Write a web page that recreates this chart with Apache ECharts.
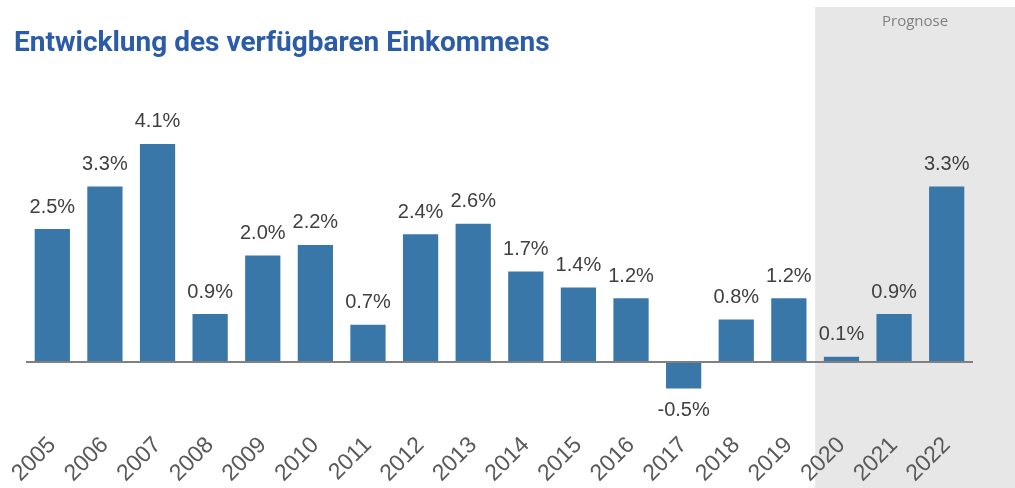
<!DOCTYPE html>
<html>
<head>
<meta charset="utf-8">
<script src="https://cdn.jsdelivr.net/npm/echarts@6/dist/echarts.min.js"></script>
<style>
  html, body { margin: 0; padding: 0; background: #fff; }
  #chart { width: 1015px; height: 488px; }
</style>
</head>
<body>
<div id="chart"></div>
<script>
var years = ['2005', '2006', '2007', '2008', '2009', '2010', '2011', '2012', '2013',
             '2014', '2015', '2016', '2017', '2018', '2019', '2020', '2021', '2022'];
var growth = [2.5, 3.3, 4.1, 0.9, 2.0, 2.2, 0.7, 2.4, 2.6,
              1.7, 1.4, 1.2, -0.5, 0.8, 1.2, 0.1, 0.9, 3.3];
var forecastStart = '2020';

var chart = echarts.init(document.getElementById('chart'));

var option = {
    animation: false,
    title: {
        text: 'Entwicklung des verfügbaren Einkommens',
        left: 9,
        top: 25,
        textStyle: {
            color: '#2a5ca8',
            fontFamily: 'Roboto',
            fontWeight: 'bold',
            fontSize: 28
        }
    },
    grid: { left: 26, right: 42, top: 96, bottom: 19.6, outerBoundsMode: 'none', containLabel: false },
    xAxis: {
        type: 'category',
        data: years,
        axisLine: { onZero: false, show: false },
        axisTick: { show: false },
        axisLabel: {
            rotate: 45,
            margin: -27,
            interval: 0,
            hideOverlap: false,
            color: '#595959',
            fontFamily: 'Liberation Sans',
            fontSize: 23
        }
    },
    yAxis: {
        type: 'value',
        min: -2,
        max: 5,
        show: false,
        splitLine: { show: false }
    },
    series: [{
        type: 'bar',
        barCategoryGap: '33%',
        z: 3,
        itemStyle: { color: '#3a77a9' },
        data: growth.map(function (v) {
            return {
                value: v,
                label: { position: v < 0 ? 'bottom' : 'top' }
            };
        }),
        label: {
            show: true,
            distance: 12,
            color: '#404040',
            fontFamily: 'Liberation Sans',
            fontSize: 20,
            formatter: function (p) { return p.value.toFixed(1) + '%'; }
        },
        markLine: {
            silent: true,
            symbol: 'none',
            label: { show: false },
            lineStyle: { color: '#808080', width: 2, type: 'solid' },
            data: [{ yAxis: 0 }]
        }
    }]
};

chart.setOption(option);

// shaded forecast region, positioned from the category axis
var i0 = years.indexOf(forecastStart);
var xa = chart.convertToPixel({ xAxisIndex: 0 }, years[i0 - 1]);
var xb = chart.convertToPixel({ xAxisIndex: 0 }, years[i0]);
var left = (xa + xb) / 2;
var w = chart.getWidth() - left;

chart.setOption({
    graphic: [{
        type: 'rect',
        z: 0,
        silent: true,
        shape: { x: left, y: 7, width: w, height: chart.getHeight() - 7 },
        style: { fill: '#e7e7e7' }
    }, {
        type: 'text',
        z: 1,
        silent: true,
        x: left + w / 2,
        y: 22,
        style: {
            text: 'Prognose',
            fill: '#808080',
            font: '15px "Open Sans"',
            align: 'center',
            verticalAlign: 'middle'
        }
    }]
});
</script>
</body>
</html>
